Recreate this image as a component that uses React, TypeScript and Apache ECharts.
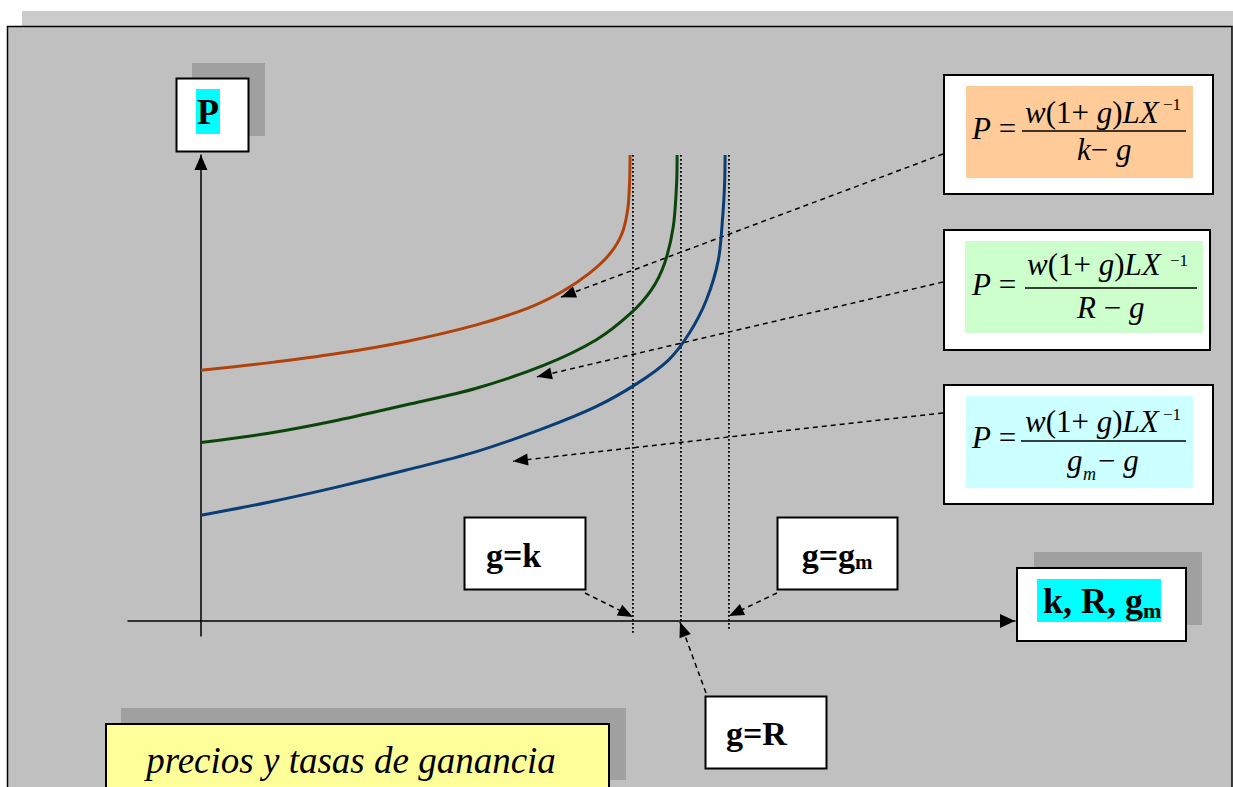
import React, { useEffect, useRef } from "react";
import * as echarts from "echarts";

// ---------- data (chart units: x = rate, y = price) ----------
const orangeX = [0, 14.0, 28.4, 42.8, 57.2, 68.0, 75.1, 80.9, 85.2, 87.7, 88.9, 89.3, 89.4];
const orangeY = [53.8, 55.4, 57.4, 60.0, 63.5, 67.1, 70.6, 74.6, 78.8, 83.1, 88.2, 94.0, 100];
const greenX = [0, 14.1, 28.5, 42.8, 57.2, 71.5, 82.3, 89.5, 93.8, 96.6, 98.4, 99.1, 99.2];
const greenY = [38.3, 40.3, 43.1, 46.4, 49.9, 54.9, 60.3, 66.0, 71.0, 76.8, 84.6, 93.9, 100];
const blueX = [0, 14.1, 28.5, 42.8, 57.2, 71.5, 82.3, 90.9, 97.4, 101.7, 105.3, 107.8, 108.7, 109.1, 109.2];
const blueY = [22.7, 25.5, 28.8, 32.4, 36.3, 41.4, 46.0, 51.0, 56.0, 61.7, 68.9, 77.5, 86.8, 93.9, 100];
const curveNames = ["P (k)", "P (R)", "P (gm)"];

// asymptotes g = k, g = R, g = gm
const asymptoteX = [90, 100, 110];
const asymptoteBottom = [-3, 0, -1.9];
const asymptoteTop = 100;

// where each annotation arrow points to (chart units)
const pointerTargetX = [75.0, 70.0, 65.0, 90.0, 110.0, 99.8];
const pointerTargetY = [69.5, 52.4, 34.3, 0.9, 1.1, -0.2];

const axisMinX = -15.2;
const axisMaxX = 169.6;
const axisMinY = -3.2;
const axisMaxY = 100;

const title = "precios y tasas de ganancia";

const SERIF = "'Liberation Serif', 'Times New Roman', serif";

function zip(xs: number[], ys: number[]) {
  return xs.map((x, i) => [x, ys[i]]);
}

function txt(
  x: number,
  y: number,
  text: string,
  fs: number,
  o: { italic?: boolean; bold?: boolean; align?: string; rich?: any } = {}
) {
  return {
    type: "text",
    x,
    y,
    z: 30,
    silent: true,
    style: {
      text,
      fontFamily: SERIF,
      fontSize: fs,
      fontStyle: o.italic ? "italic" : "normal",
      fontWeight: o.bold ? "bold" : "normal",
      fill: "#000",
      align: o.align || "left",
      verticalAlign: "middle",
      rich: o.rich,
    },
  };
}

function rect(x: number, y: number, w: number, h: number, fill: string, stroke?: string, z = 20) {
  return {
    type: "rect",
    z,
    silent: true,
    shape: { x, y, width: w, height: h },
    style: stroke ? { fill, stroke, lineWidth: 2 } : { fill },
  };
}

const FS = 31;
const C = 0.34 * FS;
const richI = { i: { fontStyle: "italic", fontFamily: SERIF, fontSize: FS, fill: "#000" } };

function formula(cfg: any) {
  const els: any[] = [];
  els.push(txt(972, cfg.pBase - C, "{i|P} =", FS, { rich: richI }));
  els.push(txt(cfg.numX, cfg.numBase - C, "{i|w}(1+ {i|g}){i|LX}", FS, { rich: richI }));
  els.push(txt(cfg.supX, cfg.supC, "\u22121", 17));
  els.push({
    type: "line",
    z: 30,
    silent: true,
    shape: { x1: cfg.l1, y1: cfg.lineY, x2: cfg.l2, y2: cfg.lineY },
    style: { stroke: "#000", lineWidth: 1.3 },
  });
  return els;
}

export default function App() {
  const ref = useRef<HTMLDivElement>(null);
  useEffect(() => {
    if (!ref.current) return;
    const chart = echarts.init(ref.current, undefined, { renderer: "svg" });

    const pointerStarts = [
      [943, 154],
      [943, 282],
      [943, 413],
      [585, 593],
      [777, 593],
      [706, 693],
    ];

    const graphic: any[] = [
      // top strip and panel
      rect(22, 11, 1211, 16, "#cbcbcb", undefined, -20),
      {
        type: "rect",
        z: -19,
        silent: true,
        shape: { x: 7.5, y: 26.5, width: 1224.5, height: 780 },
        style: { fill: "#c0c0c0", stroke: "#000", lineWidth: 1.5 },
      },
      // P label
      rect(192, 63, 73, 73, "#a0a0a0", undefined, 18),
      rect(176.5, 78.5, 72, 73, "#ffffff", "#000"),
      rect(196, 89, 24, 45, "#00ffff", undefined, 25),
      txt(208, 124 - 0.34 * 36, "P", 36, { bold: true, align: "center" }),
      // formula boxes
      rect(944, 75, 269, 119, "#ffffff", "#000"),
      rect(966, 86, 227, 92, "#ffcc99", undefined, 25),
      rect(944, 230, 266, 120, "#ffffff", "#000"),
      rect(965, 241, 238, 92, "#ccffcc", undefined, 25),
      rect(944, 385, 269, 119, "#ffffff", "#000"),
      rect(966, 396, 227, 92, "#ccffff", undefined, 25),
      ...formula({ pBase: 139, numX: 1025, numBase: 123, supX: 1163, supC: 104.5, l1: 1022, l2: 1186, lineY: 131 }),
      txt(1077, 160 - C, "{i|k}\u2212 {i|g}", FS, { rich: richI }),
      ...formula({ pBase: 295, numX: 1027, numBase: 275, supX: 1170, supC: 260, l1: 1025, l2: 1197, lineY: 288 }),
      txt(1077, 318 - C, "{i|R} \u2212 {i|g}", FS, { rich: richI }),
      ...formula({ pBase: 448, numX: 1025, numBase: 432, supX: 1163, supC: 414.5, l1: 1021, l2: 1186, lineY: 441 }),
      txt(1067, 471 - C, "g", FS, { italic: true }),
      txt(1083, 480 - 0.34 * 18, "m", 18, { italic: true }),
      txt(1098, 471 - C, "\u2212 {i|g}", FS, { rich: richI }),
      // axis labels
      rect(1034, 552, 168, 73, "#a0a0a0", undefined, 18),
      rect(1017, 568, 169, 73, "#ffffff", "#000"),
      rect(1037, 579, 124, 43, "#00ffff", undefined, 25),
      txt(1143, 613 - 0.34 * 36, "k, R, g", 36, { bold: true, align: "right" }),
      txt(1143, 618 - 0.34 * 22, "m", 22, { bold: true }),
      // g = ... boxes
      rect(464.5, 517.5, 121, 72, "#ffffff", "#000"),
      txt(486, 567 - 0.34 * 34, "g=k", 34, { bold: true }),
      rect(777.5, 517.5, 120, 72, "#ffffff", "#000"),
      txt(855, 567 - 0.34 * 34, "g=g", 34, { bold: true, align: "right" }),
      txt(855, 569 - 0.34 * 21, "m", 21, { bold: true }),
      rect(705.5, 696.5, 121, 72, "#ffffff", "#000"),
      txt(726, 745 - 0.34 * 34, "g=R", 34, { bold: true }),
      // title
      rect(121, 708, 505, 72, "#a0a0a0", undefined, 18),
      rect(106, 724, 503, 80, "#ffff99", "#000"),
      txt(351, 773 - 0.34 * 37, title, 37, { italic: true, align: "center" }),
    ];

    const curveColors = ["#b0420c", "#0b450b", "#0a3d73"];
    const curves = [zip(orangeX, orangeY), zip(greenX, greenY), zip(blueX, blueY)];

    const series: any[] = curves.map((d, i) => ({
      type: "line",
      name: curveNames[i],
      data: d,
      showSymbol: false,
      smooth: 0.3,
      clip: false,
      z: 5,
      lineStyle: { color: curveColors[i], width: 3 },
      silent: true,
    }));

    asymptoteX.forEach((x, i) => {
      series.push({
        type: "line",
        name: "asymptote " + i,
        data: [
          [x, asymptoteTop],
          [x, asymptoteBottom[i]],
        ],
        showSymbol: false,
        clip: false,
        z: 4,
        silent: true,
        lineStyle: { color: "#000", width: 1.8, type: [1.8, 2.2] },
      });
    });

    series.push({
      type: "line",
      name: "pointers",
      data: [],
      clip: false,
      z: 6,
      silent: true,
      markLine: {
        silent: true,
        animation: false,
        symbol: ["none", "triangle"],
        symbolSize: [12, 15],
        symbolOffset: [0, [0, "50%"]],
        label: { show: false },
        lineStyle: { color: "#000", width: 1.5, type: [5, 4] },
        emphasis: { disabled: true },
        data: pointerStarts.map((p, i) => [
          { x: p[0], y: p[1] },
          { coord: [pointerTargetX[i], pointerTargetY[i]] },
        ]),
      },
    });

    chart.setOption({
      animation: false,
      backgroundColor: "#ffffff",
      grid: { left: 128, top: 155, width: 887, height: 481, containLabel: false },
      xAxis: {
        type: "value",
        min: axisMinX,
        max: axisMaxX,
        axisLine: {
          show: true,
          onZero: true,
          symbol: ["none", "triangle"],
          symbolSize: [14, 15],
          symbolOffset: [0, -7.5],
          lineStyle: { color: "#000", width: 1.5 },
        },
        axisTick: { show: false },
        axisLabel: { show: false },
        splitLine: { show: false },
      },
      yAxis: {
        type: "value",
        min: axisMinY,
        max: axisMaxY,
        axisLine: {
          show: true,
          onZero: true,
          symbol: ["none", "triangle"],
          symbolSize: [13, 15],
          symbolOffset: [0, -7.5],
          lineStyle: { color: "#000", width: 1.5 },
        },
        axisTick: { show: false },
        axisLabel: { show: false },
        splitLine: { show: false },
      },
      graphic,
      series,
    });

    return () => chart.dispose();
  }, []);

  return (
    <div
      ref={ref}
      style={{ position: "fixed", left: 0, top: 0, width: 1233, height: 787 }}
    />
  );
}
